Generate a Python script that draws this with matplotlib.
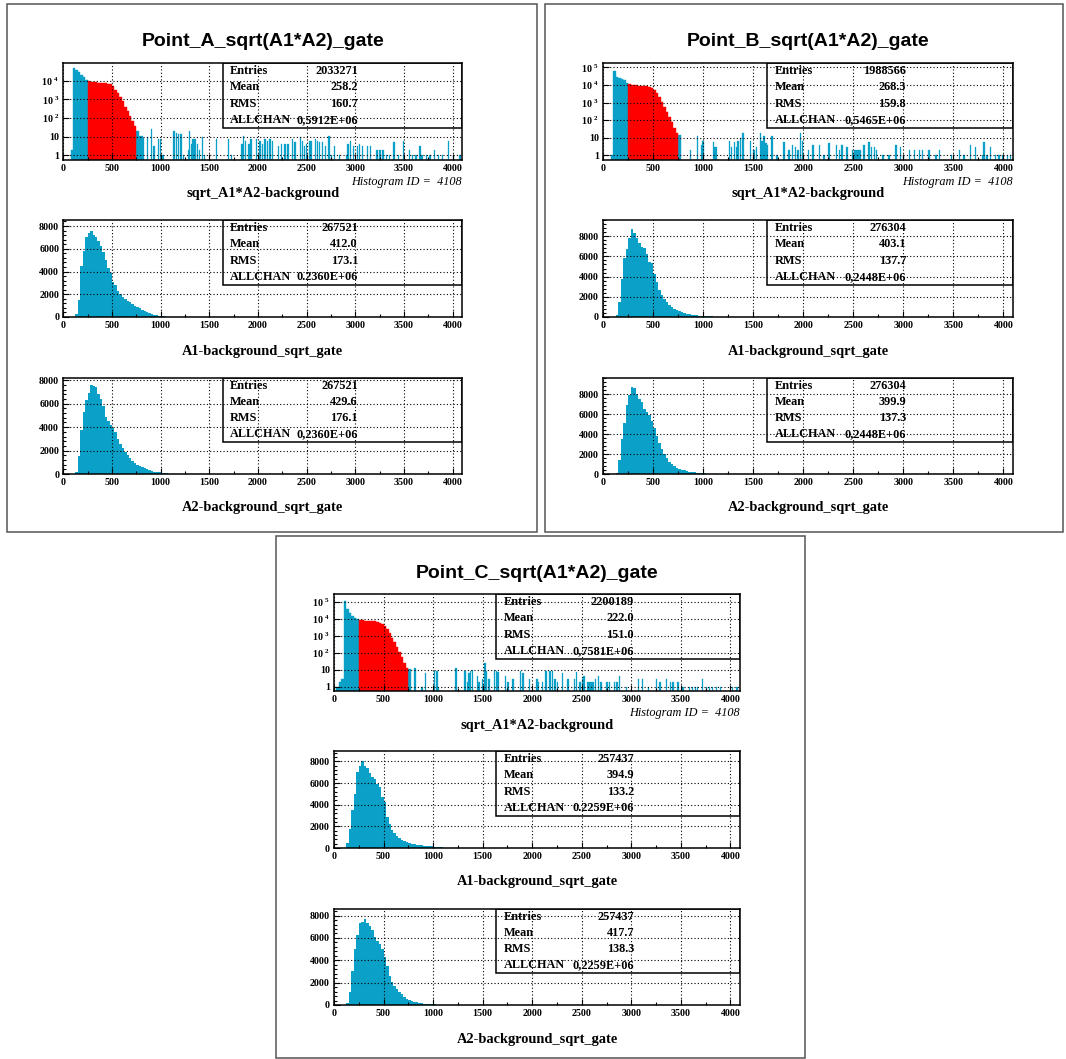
import numpy as np
import matplotlib.pyplot as plt
from matplotlib.patches import Rectangle
from matplotlib.ticker import MultipleLocator, FixedLocator, LogLocator, NullFormatter

plt.rcParams['font.family'] = ['Liberation Serif', 'DejaVu Serif']
plt.rcParams['mathtext.fontset'] = 'custom'
plt.rcParams['mathtext.rm'] = 'Liberation Serif:bold'
plt.rcParams['mathtext.bf'] = 'Liberation Serif:bold'
plt.rcParams['mathtext.default'] = 'bf'

W, H = 1066, 1059
BLUE = '#0aa0c8'
RED = '#ff0000'

# --- data ---
titles = ['Point_A_sqrt(A1*A2)_gate', 'Point_B_sqrt(A1*A2)_gate', 'Point_C_sqrt(A1*A2)_gate']
xlabels = ['sqrt_A1*A2-background', 'A1-background_sqrt_gate', 'A2-background_sqrt_gate']
hist_id = '4108'
gate_lo, gate_hi = 250, 750

# log histogram body, bins of 25 from 0 to 775
log_edges = np.arange(0, 776, 25)
a_body = [0, 0, 0, 2, 50000, 40000, 30000, 21000, 15000, 11500, 9600, 8900, 8400, 8100, 7900, 7800,
          7700, 7500, 7100, 6500, 5000, 3300, 2200, 1400, 850, 400, 230, 130, 70, 38, 19]
b_body = [0, 0, 0, 1, 65000, 28000, 26000, 22000, 19000, 14000, 11500, 10500, 10000, 9700, 9400, 9200,
          9000, 8700, 8200, 7000, 5300, 3500, 2100, 1100, 600, 300, 150, 75, 38, 20, 14]
c_body = [0, 1, 2, 3, 110000, 40000, 22000, 15000, 12000, 10000, 8500, 8200, 8000, 7800, 7600, 7400,
          7100, 6700, 6000, 5000, 3800, 2500, 1500, 800, 420, 210, 110, 55, 25, 13, 11]

# sparse tail of the log histograms (bin start, counts)
a_spike_pos = [780, 801, 820, 859, 897, 923, 971, 994, 1019, 1131, 1154, 1179, 1202, 1228, 1276, 1292,
               1308, 1327, 1346, 1372, 1391, 1420, 1442, 1564, 1692, 1718, 1827, 1846, 1868, 1901, 1923,
               1981, 2013, 2038, 2064, 2093, 2115, 2141, 2205, 2237, 2269, 2301, 2349, 2372, 2429, 2449,
               2471, 2493, 2526, 2545, 2583, 2606, 2625, 2654, 2686, 2724, 2750, 2782, 2830, 2906, 2917,
               2942, 2974, 3013, 3038, 3070, 3118, 3150, 3215, 3247, 3279, 3311, 3343, 3391, 3439, 3487,
               3551, 3580, 3615, 3658, 3679, 3727, 3760, 3808, 3850, 3890, 3949, 4000, 4068]
a_spike_cnt = [11, 11, 8, 10, 26, 3, 7, 7, 1, 19, 16, 13, 13, 1, 2, 21,
               4, 7, 7, 4, 2, 10, 1, 7, 7, 1, 4, 11, 6, 4, 7,
               7, 6, 4, 7, 6, 7, 6, 3, 4, 4, 4, 7, 5, 10, 6,
               3, 4, 6, 6, 7, 6, 5, 5, 3, 11, 1, 3, 1, 1, 4,
               6, 3, 3, 4, 3, 3, 3, 2, 2, 2, 1, 1, 5, 1, 6,
               2, 1, 1, 3, 1, 1, 1, 2, 1, 1, 6, 1, 1]
b_spike_pos = [865, 935, 976, 992, 1094, 1113, 1126, 1256, 1278, 1304, 1326, 1342, 1364, 1390, 1469,
               1501, 1527, 1565, 1580, 1603, 1622, 1638, 1682, 1730, 1803, 1851, 1889, 1914, 1940, 1965,
               1984, 2048, 2089, 2153, 2200, 2251, 2328, 2353, 2379, 2430, 2487, 2503, 2519, 2535, 2551,
               2567, 2601, 2652, 2678, 2703, 2728, 2790, 2852, 2919, 2964, 2996, 3053, 3107, 3155, 3186,
               3250, 3320, 3352, 3473, 3552, 3600, 3663, 3716, 3784, 3799, 3829, 3866, 3916, 3950, 3990,
               4033, 4067]
b_spike_cnt = [2, 13, 4, 7, 6, 3, 3, 7, 3, 6, 3, 7, 10, 18, 7,
               2, 3, 18, 7, 13, 5, 4, 13, 1, 6, 2, 4, 3, 2, 18,
               7, 2, 4, 4, 1, 5, 4, 2, 4, 3, 2, 2, 2, 2, 2,
               2, 4, 6, 3, 3, 2, 1, 1, 4, 3, 1, 2, 2, 2, 2,
               2, 1, 2, 1, 2, 1, 4, 3, 1, 6, 1, 3, 1, 1, 1,
               1, 1]
c_spike_pos = [809, 882, 916, 1009, 1032, 1048, 1225, 1315, 1342, 1355, 1372, 1389, 1439, 1455, 1489,
               1515, 1532, 1555, 1615, 1632, 1648, 1722, 1748, 1798, 1875, 1898, 1965, 2041, 2058, 2098,
               2131, 2174, 2198, 2221, 2248, 2298, 2354, 2421, 2441, 2474, 2498, 2514, 2548, 2564, 2580,
               2596, 2614, 2631, 2664, 2687, 2747, 2774, 2821, 2847, 2874, 2947, 3064, 3107, 3164, 3247,
               3280, 3347, 3387, 3413, 3463, 3513, 3580, 3610, 3640, 3663, 3713, 3750, 3780, 3810, 3850,
               3890, 4013, 4060]
c_spike_cnt = [12, 1, 6, 8, 8, 1, 12, 8, 2, 6, 8, 9, 4, 2, 3,
               25, 8, 3, 9, 8, 7, 4, 2, 3, 8, 6, 3, 3, 2, 2,
               8, 8, 8, 3, 2, 6, 3, 3, 7, 2, 3, 4, 2, 2, 2,
               2, 2, 3, 4, 2, 2, 2, 2, 2, 4, 1, 3, 3, 1, 3,
               2, 3, 2, 2, 2, 1, 1, 1, 1, 1, 3, 1, 1, 1, 1,
               1, 1, 1]

# linear histograms, bins of 25 from 0 to 1300
lin_edges = np.arange(0, 1301, 25)
a1_vals = [0, 0, 0, 0, 0, 300, 1500, 4500, 5800, 7000, 7400, 7600, 7200, 7000, 6700, 6200, 5700, 5000,
           4300, 3900, 3100, 2800, 2300, 2000, 1800, 1600, 1450, 1300, 1100, 1000, 880, 760, 640, 530,
           440, 350, 270, 200, 140, 90, 70, 50, 35, 25, 18, 12, 8, 5, 3, 2, 1, 1]
a2_vals = [0, 0, 0, 0, 0, 200, 1500, 3800, 5300, 6300, 6900, 7600, 7500, 7400, 6800, 6400, 5800, 4900,
           4500, 4200, 3900, 3600, 3000, 2600, 2200, 1900, 1600, 1350, 1100, 950, 800, 680, 580, 480,
           400, 330, 270, 210, 160, 130, 100, 75, 55, 40, 30, 22, 16, 12, 9, 7, 5, 4]
b1_vals = [0, 0, 0, 0, 0, 150, 1500, 3800, 5800, 6700, 7800, 8700, 8300, 7800, 7300, 6900, 6800, 6200,
           5400, 5300, 4300, 3500, 2700, 2200, 1750, 1450, 1200, 1000, 820, 680, 560, 470, 400, 330,
           270, 220, 180, 150, 120, 100, 85, 70, 60, 50, 40, 32, 25, 18, 12, 8, 5, 3]
b2_vals = [0, 0, 0, 0, 0, 150, 1400, 3500, 5100, 6900, 7900, 8700, 8600, 8000, 7500, 7200, 6500, 6200,
           5900, 5300, 4600, 3800, 3100, 2500, 2000, 1600, 1250, 1000, 800, 650, 520, 430, 360, 300,
           250, 200, 160, 130, 100, 80, 60, 45, 35, 25, 18, 12, 8, 5, 3, 2, 1, 1]
c1_vals = [0, 0, 0, 0, 30, 500, 1800, 3500, 5000, 7000, 7600, 8000, 7600, 7400, 6900, 6600, 6400, 5900,
           5600, 4700, 4300, 2900, 2200, 1700, 1400, 1150, 950, 780, 640, 540, 460, 400, 350, 310,
           280, 250, 220, 190, 170, 150, 120, 100, 80, 60, 45, 35, 25, 18, 12, 8, 5, 3]
c2_vals = [0, 0, 0, 0, 0, 150, 1200, 3000, 5000, 6300, 7300, 7400, 7700, 7300, 7100, 6700, 6100, 5700,
           5500, 5000, 4300, 3500, 2600, 2100, 1700, 1400, 1150, 950, 750, 580, 460, 380, 310, 250,
           200, 160, 130, 100, 80, 60, 45, 35, 25, 18, 13, 9, 6, 4, 3, 2, 1, 1]

stat_names = ['Entries', 'Mean', 'RMS', 'ALLCHAN']
a_stats = [['2033271', '258.2', '160.7', '0,5912E+06'],
           ['267521', '412.0', '173.1', '0.2360E+06'],
           ['267521', '429.6', '176.1', '0,2360E+06']]
b_stats = [['1988566', '268.3', '159.8', '0,5465E+06'],
           ['276304', '403.1', '137.7', '0,2448E+06'],
           ['276304', '399.9', '137.3', '0,2448E+06']]
c_stats = [['2200189', '222.0', '151.0', '0,7581E+06'],
           ['257437', '394.9', '133.2', '0.2259E+06'],
           ['257437', '417.7', '138.3', '0,2259E+06']]

log_tops = [9e4, 1.8e5, 3e5]
lin_tops = [[8530, 8200], [9600, 9600], [8970, 8590]]

# --- layout (pixels) ---
fig = plt.figure(figsize=(W / 100, H / 100), dpi=100)

def fx(x):
    return x / W

def fy(y):
    return 1 - y / H

def px_axes(x0, y0, x1, y1):
    return fig.add_axes([fx(x0), fy(y1), (x1 - x0) / W, (y1 - y0) / H])

def style_axes(ax):
    ax.set_xlim(0, 4096)
    ax.xaxis.set_major_locator(MultipleLocator(500))
    ax.xaxis.set_minor_locator(MultipleLocator(250))
    ax.tick_params(which='both', direction='in', top=False, right=False,
                   labelsize=7.2, width=0.8, pad=3)
    ax.tick_params(which='major', length=4)
    ax.tick_params(which='minor', length=2)
    for lab in ax.get_xticklabels() + ax.get_yticklabels():
        lab.set_fontweight('bold')
    ax.grid(True, which='major', color='black', linestyle=(0, (1, 2)), linewidth=0.8)
    ax.set_axisbelow(False)
    for sp in ax.spines.values():
        sp.set_linewidth(1.1)

def stats_box(ax, vals):
    ax.add_patch(Rectangle((0.40, 0.33), 0.60, 0.67, transform=ax.transAxes, fill=False,
                           lw=1.1, ec='black', zorder=6))
    for i, (k, v) in enumerate(zip(stat_names, vals)):
        y = 1 - 0.67 * (i + 0.5) / 4
        ax.text(0.418, y, k, transform=ax.transAxes, ha='left', va='center',
                fontsize=8.8, fontweight='bold', zorder=7)
        ax.text(0.739, y, v, transform=ax.transAxes, ha='right', va='center',
                fontsize=8.8, fontweight='bold', zorder=7)

def log_hist(ax, body, spos, scnt, top):
    ax.set_yscale('log')
    body = np.array(body, float)
    left = log_edges[:-1]
    gated = (left >= gate_lo) & (left + 25 <= gate_hi)
    ax.bar(left[~gated], body[~gated], width=25, align='edge', color=BLUE, ec=BLUE, lw=0.3)
    ax.bar(left[gated], body[gated], width=25, align='edge', color=RED, ec=RED, lw=0.3)
    ax.bar(spos, scnt, width=14, align='edge', color=BLUE, ec=BLUE, lw=0.2)
    ax.set_ylim(0.55, top)
    ticks = [1, 10, 100, 1e3, 1e4, 1e5]
    labels = ['1', '10', r'$10^{\ 2}$', r'$10^{\ 3}$', r'$10^{\ 4}$', r'$10^{\ 5}$']
    ax.yaxis.set_major_locator(FixedLocator(ticks))
    ax.set_yticklabels(labels)
    ax.yaxis.set_minor_locator(LogLocator(base=10, subs=np.arange(2, 10)))
    ax.yaxis.set_minor_formatter(NullFormatter())

def lin_hist(ax, vals, top):
    ax.stairs(vals, lin_edges, fill=True, color=BLUE, lw=0)
    ax.set_ylim(0, top)
    ax.yaxis.set_major_locator(MultipleLocator(2000))
    ax.yaxis.set_minor_locator(MultipleLocator(400))

panels = [
    (63.3, 462, 0, (7, 4, 537, 532), a_body, a_spike_pos, a_spike_cnt, [a1_vals, a2_vals], a_stats),
    (603, 1013, 0, (545, 4, 1063, 532), b_body, b_spike_pos, b_spike_cnt, [b1_vals, b2_vals], b_stats),
    (334, 740, 531, (276, 536, 805, 1058), c_body, c_spike_pos, c_spike_cnt, [c1_vals, c2_vals], c_stats),
]
rows = [(63, 160), (220, 317), (378, 474)]

for p, (x0, x1, yo, frame, body, spos, scnt, lins, stats) in enumerate(panels):
    fig.add_artist(Rectangle((fx(frame[0]), fy(frame[3])), (frame[2] - frame[0]) / W,
                             (frame[3] - frame[1]) / H, transform=fig.transFigure,
                             fill=False, ec='#555555', lw=1.1))
    fig.text(fx((x0 + x1) / 2), fy(42 + yo), titles[p], ha='center', va='center',
             family='Liberation Sans', fontweight='bold', fontsize=14)
    for r, (y0, y1) in enumerate(rows):
        ax = px_axes(x0, y0 + yo, x1, y1 + yo)
        if r == 0:
            log_hist(ax, body, spos, scnt, log_tops[p])
        else:
            lin_hist(ax, lins[r - 1], lin_tops[p][r - 1])
        style_axes(ax)
        stats_box(ax, stats[r])
        fig.text(fx((x0 + x1) / 2), fy(y1 + yo + 34), xlabels[r], ha='center', va='center',
                 fontweight='bold', fontsize=10.4)
        if r == 0:
            fig.text(fx(x1), fy(y1 + yo + 22), 'Histogram ID =  ' + hist_id, ha='right',
                     va='center', style='italic', fontsize=8.8)

fig.savefig('out.png', dpi=100)
